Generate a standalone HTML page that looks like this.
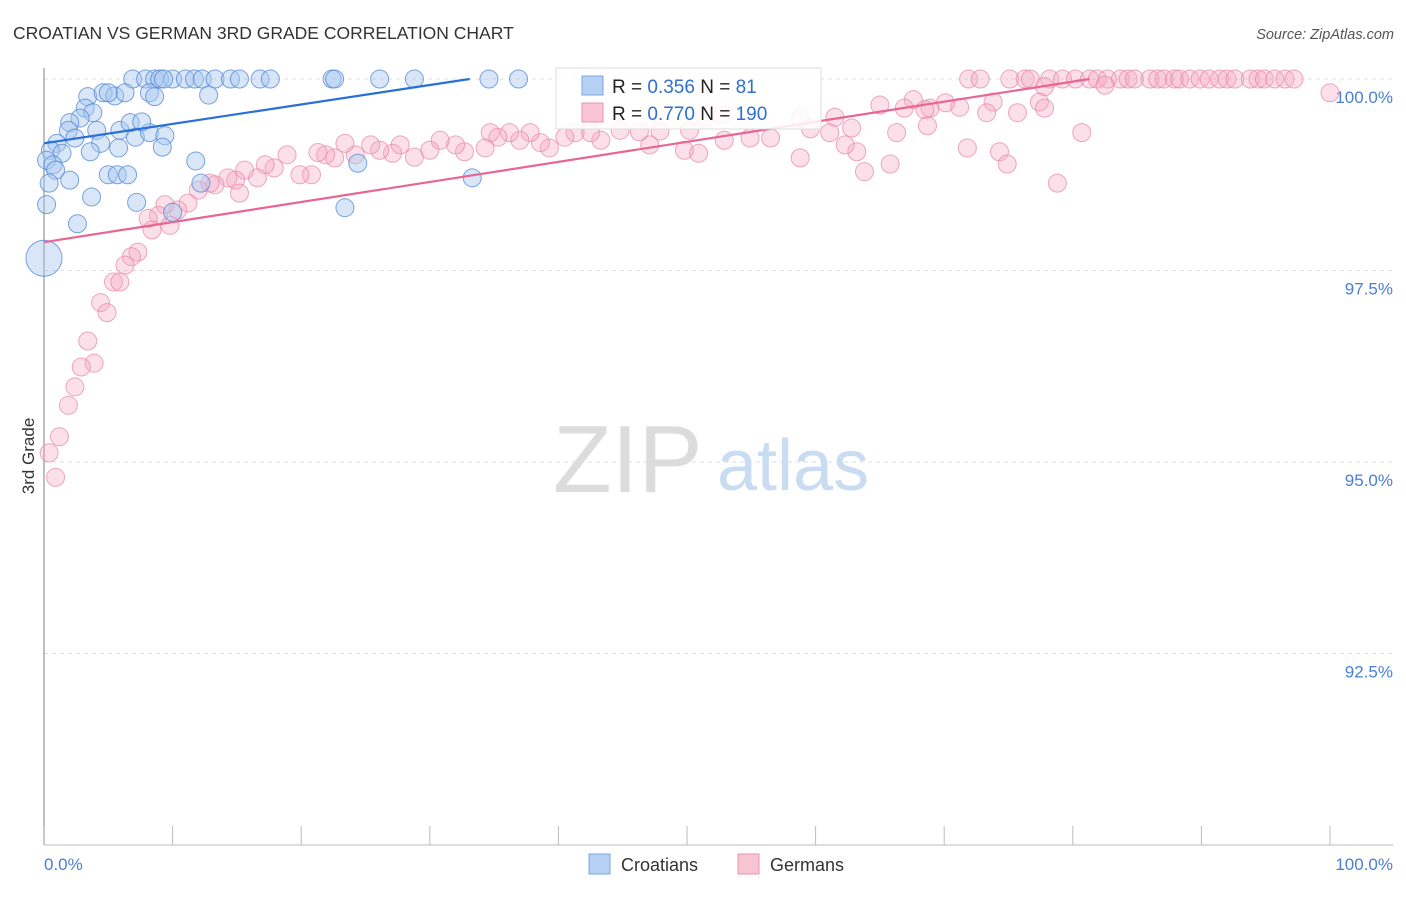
<!DOCTYPE html>
<html><head><meta charset="utf-8"><style>
body{margin:0;background:#fff;font-family:"Liberation Sans",sans-serif;}
svg text{font-family:"Liberation Sans",sans-serif;}
</style></head><body>
<svg id="chart" width="1406" height="892" xmlns="http://www.w3.org/2000/svg">
<text x="13" y="39" font-size="17.5" fill="#333">CROATIAN VS GERMAN 3RD GRADE CORRELATION CHART</text>
<text x="1394" y="39" font-size="14.5" fill="#555" text-anchor="end" font-style="italic">Source: ZipAtlas.com</text>
<g id="grid"></g>
<g>
<text x="553" y="492" font-size="96" fill="#dcdcdc" font-family="Liberation Serif,serif">ZIP</text>
<text x="717" y="490" font-size="72" fill="#c9dcf2">atlas</text>
</g>
<line x1="44" y1="68" x2="44" y2="845" stroke="#aaa" stroke-width="1.5"/>
<line x1="44" y1="845" x2="1393" y2="845" stroke="#bbb" stroke-width="1"/>
<g id="xticks"></g>
<g id="ylabels"></g>
<text transform="translate(34,456) rotate(-90)" font-size="17" fill="#333" text-anchor="middle">3rd Grade</text>
<text x="44" y="870" font-size="17" fill="#4a7fd4">0.0%</text>
<text x="1393" y="870" font-size="17" fill="#4a7fd4" text-anchor="end">100.0%</text>
<g id="pink"></g>
<g id="blue"></g>
<g id="trends"></g>
<g>
<rect x="556" y="68" width="265" height="61" fill="#fff" fill-opacity="0.85" stroke="#ddd"/>
<rect x="582" y="76" width="21" height="19" fill="#b6d0f4" stroke="#7aa6e0"/>
<text x="612" y="93" font-size="19" fill="#222">R = <tspan fill="#2f6fd0">0.356</tspan>   N = <tspan fill="#2f6fd0">  81</tspan></text>
<rect x="582" y="103" width="21" height="19" fill="#f8c3d3" stroke="#ec93b0"/>
<text x="612" y="120" font-size="19" fill="#222">R = <tspan fill="#2f6fd0">0.770</tspan>   N = <tspan fill="#2f6fd0">190</tspan></text>
</g>
<g>
<rect x="589" y="854" width="21" height="20" fill="#b6d0f4" stroke="#7aa6e0"/>
<text x="621" y="871" font-size="18" fill="#333">Croatians</text>
<rect x="738" y="854" width="21" height="20" fill="#f8c3d3" stroke="#ec93b0"/>
<text x="770" y="871" font-size="18" fill="#333">Germans</text>
</g>
</svg>
<script>
const yTicks=[100,97.5,95,92.5];
const yTickLabels=["100.0%","97.5%","95.0%","92.5%"];
const xTicks=[0,10,20,30,40,50,60,70,80,90,100];
const blueX=[6.9,7.9,8.6,9.0,10.0,11.0,11.7,12.3,13.3,14.5,15.2,16.8,17.6,22.4,26.1,28.8,34.6,36.9,3.4,4.6,5.5,6.3,8.2,8.6,12.8,3.2,3.8,2.8,2.0,1.9,4.1,5.9,7.1,8.2,9.4,1.0,2.4,4.4,6.7,7.6,0.5,1.4,3.6,5.8,9.2,0.2,0.7,0.9,2.0,5.0,5.7,6.5,11.8,0.4,3.7,7.2,10.0,0.2,2.6,24.4,23.4,33.3,12.2,5.0,9.3,22.6];
const blueY=[100,100,100,100,100,100,100,100,100,100,100,100,100,100,100,100,100,100,99.77,99.82,99.78,99.82,99.82,99.77,99.79,99.62,99.56,99.49,99.43,99.33,99.33,99.33,99.24,99.30,99.26,99.16,99.23,99.16,99.43,99.44,99.07,99.03,99.05,99.10,99.11,98.94,98.88,98.81,98.68,98.75,98.75,98.75,98.93,98.64,98.46,98.39,98.26,98.36,98.11,98.90,98.32,98.71,98.64,99.82,100,100];
const pinkX=[71.9,72.8,75.1,76.3,76.7,78.2,79.2,80.2,81.3,81.9,82.7,83.7,84.3,84.8,86.0,86.6,87.1,87.9,88.3,89.1,89.9,90.6,91.4,92.0,92.6,93.8,94.4,94.9,95.7,96.5,97.2,100,77.8,82.5,73.8,77.4,77.8,75.7,73.3,71.2,70.1,68.9,67.6,66.9,65.0,68.5,66.3,68.7,80.7,71.8,74.3,74.9,78.8,65.8,63.8,63.2,62.3,61.1,62.8,61.5,58.8,59.6,58.8,56.5,54.9,52.9,52.7,51.4,50.2,49.8,50.9,47.9,47.1,46.3,44.8,43.3,42.5,41.3,40.5,39.3,38.6,37.8,37.0,36.2,35.3,34.7,34.3,32.7,32.0,30.8,30.0,28.8,27.7,27.1,26.1,25.4,24.2,23.4,22.6,21.9,21.3,20.8,19.9,18.9,17.9,17.2,16.6,15.6,14.9,14.3,13.3,12.9,12.0,15.2,11.2,10.4,9.4,8.9,8.1,9.8,8.4,7.3,6.8,6.3,5.4,5.9,4.4,4.9,3.4,3.9,2.9,2.4,1.9,1.2,0.4,0.9];
const pinkY=[100,100,100,100,100,100,100,100,100,100,100,100,100,100,100,100,100,100,100,100,100,100,100,100,100,100,100,100,100,100,100,99.82,99.9,99.92,99.7,99.7,99.62,99.56,99.56,99.63,99.69,99.62,99.73,99.62,99.66,99.6,99.3,99.39,99.3,99.1,99.05,98.89,98.64,98.89,98.79,99.05,99.14,99.3,99.36,99.5,99.49,99.35,98.97,99.23,99.23,99.2,99.53,99.49,99.33,99.07,99.03,99.32,99.14,99.31,99.33,99.2,99.3,99.3,99.24,99.1,99.17,99.3,99.2,99.3,99.24,99.3,99.1,99.05,99.14,99.2,99.07,98.98,99.14,99.03,99.07,99.14,99.01,99.16,98.97,99.01,99.04,98.75,98.75,99.01,98.84,98.88,98.71,98.81,98.68,98.71,98.62,98.64,98.55,98.51,98.38,98.29,98.36,98.22,98.18,98.09,98.03,97.74,97.68,97.57,97.35,97.35,97.08,96.95,96.58,96.29,96.24,95.98,95.74,95.33,95.12,94.8];
const blueTrend=[0,99.16,33.1,100];
const pinkTrend=[0,97.87,81.3,100];
const NS="http://www.w3.org/2000/svg";
function sx(v){return 44+v*12.86;}
function sy(v){return 79+(100-v)*76.6;}
function mk(t,attrs,parent){const e=document.createElementNS(NS,t);for(const k in attrs)e.setAttribute(k,attrs[k]);parent.appendChild(e);return e;}
const grid=document.getElementById('grid'),yl=document.getElementById('ylabels');
yTicks.forEach((v,i)=>{
 const l=mk('line',{x1:44,x2:1393,y1:sy(v),y2:sy(v),stroke:'#ddd','stroke-dasharray':'4,4'},grid);
 
 
 const t=mk('text',{x:1393,y:sy(v)+24,'font-size':17,fill:'#4a7fd4','text-anchor':'end'},yl);
 t.textContent=yTickLabels[i];
 
 
});
const xt=document.getElementById('xticks');
xTicks.forEach(v=>{
 const l=mk('line',{x1:sx(v),x2:sx(v),y1:826,y2:845,stroke:'#bbb'},xt);
 
 
});
const pk=document.getElementById('pink');
pinkX.forEach((x,i)=>{
 const c=mk('circle',{cx:sx(x),cy:sy(pinkY[i]),r:9,fill:'#f4a6bf','fill-opacity':0.35,stroke:'#e883a4','stroke-opacity':0.7,'stroke-width':1},pk);
 
 
});
const bl=document.getElementById('blue');
blueX.forEach((x,i)=>{
 const c=mk('circle',{cx:sx(x),cy:sy(blueY[i]),r:(i==58?9:9),fill:'#a8c8f0','fill-opacity':0.45,stroke:'#4f86d6','stroke-opacity':0.75,'stroke-width':1},bl);
 
 
});
const big=mk('circle',{cx:sx(0),cy:sy(97.66),r:18,fill:'#a8c8f0','fill-opacity':0.45,stroke:'#4f86d6','stroke-opacity':0.75},bl);


const tr=document.getElementById('trends');
const bt=mk('line',{x1:sx(blueTrend[0]),y1:sy(blueTrend[1]),x2:sx(blueTrend[2]),y2:sy(blueTrend[3]),stroke:'#2a6fd6','stroke-width':2.2},tr);


const pt=mk('line',{x1:sx(pinkTrend[0]),y1:sy(pinkTrend[1]),x2:sx(pinkTrend[2]),y2:sy(pinkTrend[3]),stroke:'#e8668f','stroke-width':2.2},tr);


</script>
</body></html>
